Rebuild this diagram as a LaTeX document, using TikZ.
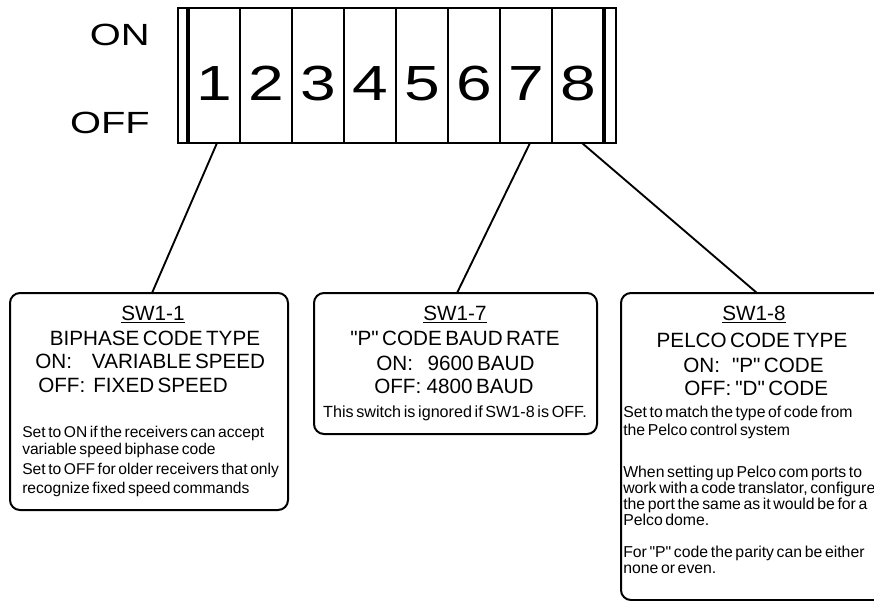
\documentclass[tikz,border=0pt]{standalone}
\usepackage{fontspec}
\setmainfont{Liberation Sans}[WordSpace=0.6, Ligatures=TeXOff]
\begin{document}
\begin{tikzpicture}[x=0.75pt,y=-0.75pt,
  lbl/.style={inner sep=0, anchor=base, font=\fontsize{15.5}{18}\selectfont},
  lblw/.style={lbl, anchor=base west},
  sml/.style={inner sep=0, anchor=base west, font=\fontsize{12.1}{14}\selectfont},
  smla/.style={sml, font=\fontsize{11.7}{14}\selectfont},
  smlc/.style={sml, font=\fontsize{11.85}{14}\selectfont},
  digit/.style={inner sep=0, anchor=base, font=\fontsize{37}{40}\selectfont},
  side/.style={inner sep=0, anchor=base east, font=\fontsize{23}{26}\selectfont},
  box/.style={line width=1.5pt, rounded corners=7.5pt},
  lead/.style={line width=1.4pt},
  sw/.style={line width=1.5pt},
  swthick/.style={line width=2.4pt}]
\useasboundingbox (0,0) rectangle (874,600);
\clip (0,0) rectangle (874,600);
% DIP switch body
\draw[sw] (178,8) rectangle (616,143);
\foreach \i in {1,...,7} \draw[sw] ({188+52*\i},8) -- ({188+52*\i},143);
\draw[swthick] (188,8) -- (188,143);
\draw[swthick] (604,8) -- (604,143);
\foreach \i in {1,...,8} \node[digit] (d\i) at ({162+52*\i},100) {\scalebox{1.3}[1]{\i}};
\node[side] (on) at (150,45) {\scalebox{1.3}[1]{ON}};
\node[side] (off) at (150,133) {\scalebox{1.3}[1]{OFF}};
% leader end points
\coordinate (s1) at (217,143);
\coordinate (s7) at (530,143);
\coordinate (s8) at (582,143);
\coordinate (t1) at (152,293);
\coordinate (t7) at (457,293);
\coordinate (t8) at (757,293);
% boxes
\draw[box] (10,293) rectangle (288,510);
\draw[box] (314,293) rectangle (597,434);
\draw[box] (621,293) rectangle (885,600);
\draw[lead] (s1) -- (t1);
\draw[lead] (s7) -- (t7);
\draw[lead] (s8) -- (t8);
% box 1
\node[lbl] (a1) at (153,320) {\underline{SW1-1}};
\node[lbl] (a2) at (155,345) {BIPHASE CODE TYPE};
\node[lblw] (a3) at (35,368) {ON:\hspace{15pt}VARIABLE SPEED};
\node[lblw] (a4) at (38,392) {OFF:\hspace{6pt}FIXED SPEED};
\node[smla] (a5) at (22,437) {Set to ON if the receivers can accept};
\node[smla] (a6) at (22,454) {variable speed biphase code};
\node[smla] (a7) at (22,474) {Set to OFF for older receivers that only};
\node[smla] (a8) at (22,493) {recognize fixed speed commands};
% box 2
\node[lbl] (b1) at (455,320) {\underline{SW1-7}};
\node[lbl] (b2) at (455,345) {"P" CODE BAUD RATE};
\node[lblw] (b3) at (376,370) {ON:\hspace{11pt}9600 BAUD};
\node[lblw] (b4) at (374,393) {OFF:\hspace{4pt}4800 BAUD};
\node[sml, anchor=base] (b5) at (455,417) {This switch is ignored if SW1-8 is OFF.};
% box 3
\node[lbl] (c1) at (754,320) {\underline{SW1-8}};
\node[lbl] (c2) at (752,347) {PELCO CODE TYPE};
\node[lblw] (c3) at (683,372) {ON:\hspace{9pt}"P" CODE};
\node[lblw] (c4) at (684,395) {OFF:\hspace{3pt}"D" CODE};
\node[smlc] (c5) at (623,417) {Set to match the type of code from};
\node[smlc] (c6) at (623,435) {the Pelco control system};
\node[smlc] (c7) at (623,477) {When setting up Pelco com ports to};
\node[smlc] (c8) at (623,493) {work with a code translator, configure};
\node[smlc] (c9) at (623,509) {the port the same as it would be for a};
\node[smlc] (c10) at (623,525) {Pelco dome.};
\node[smlc] (c11) at (623,557) {For "P" code the parity can be either};
\node[smlc] (c12) at (623,573) {none or even.};
\end{tikzpicture}
\end{document}
